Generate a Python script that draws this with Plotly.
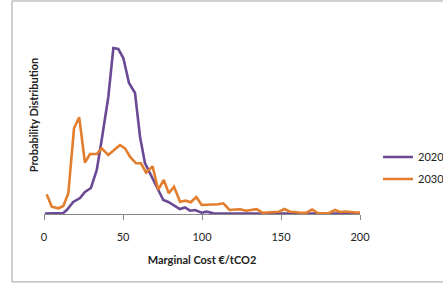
import plotly.graph_objects as go

# Marginal cost (€/tCO2) and probability distribution (arbitrary units)
cost_2020 = [0.6, 4, 8, 12.2, 14.4, 18.5, 22.8, 25.9, 29.7, 33.4, 36.5, 40.7, 43.9, 47, 50.2,
             53.8, 57.6, 60.8, 63.9, 68.2, 72.3, 75.5, 78.7, 81.8, 86, 89.2, 92.4, 95.6,
             99.8, 103, 107.2, 112, 120, 130, 140, 150, 160, 170, 180, 190, 200]
prob_2020 = [0.5, 0.5, 0.5, 1, 4, 12, 16, 22, 26, 44, 74, 117, 166, 165, 156,
             131, 121, 77, 51, 37, 24, 14, 12, 9, 5, 6.5, 3.3, 4,
             1.3, 2.3, 0.7, 0.5, 0.5, 0.5, 0.5, 0.5, 0.5, 0.5, 0.5, 0.5, 0.5]

cost_2030 = [1.7, 4.9, 9.1, 12.2, 15.4, 19.0, 22.3, 25.9, 29.1, 33.4, 36.5, 40.7, 44.9, 48.1,
             51.3, 54.4, 58.2, 61.4, 64.6, 68.7, 72.3, 75.8, 79.0, 82.3, 86.1, 89.6, 92.9,
             96.4, 99.8, 103.2, 107.2, 110.1, 113.5, 117.4, 120.9, 124.1, 127.8, 131.0,
             134.6, 138.5, 142.0, 145.6, 148.7, 152.2, 155.7, 158.9, 162.0, 166.1, 169.7,
             173.6, 176.6, 179.9, 184.2, 187.3, 190.8, 194.7, 197.5, 200]
prob_2030 = [19.7, 7.3, 5.7, 8, 20.7, 85.7, 96.7, 51.3, 60, 60, 65.7, 59, 64.7, 69,
             65.7, 57.3, 50.7, 50.7, 41.3, 47.7, 24.3, 34, 20.7, 27.3, 12.3, 13.3, 11.7,
             17, 9, 9, 9, 9.7, 10.7, 4, 4.5, 4.7, 3.2, 4,
             4.8, 1.2, 1.7, 2.5, 2.3, 5, 2.3, 2, 1.3, 1.3, 4.5,
             0.7, 0.7, 0.7, 4, 2, 2.5, 1.5, 1.5, 1.5]

x_ticks = [0, 50, 100, 150, 200]

FONT = "Lato, 'Liberation Sans', Arial, sans-serif"

fig = go.Figure()
fig.add_trace(go.Scatter(x=cost_2020, y=prob_2020, mode="lines", name="2020",
                         line=dict(color="#6a4a94", width=2.6), cliponaxis=False,
                         legendgroup="a"))
fig.add_trace(go.Scatter(x=cost_2030, y=prob_2030, mode="lines", name="2030",
                         line=dict(color="#e27e2d", width=2.6), cliponaxis=False,
                         legendgroup="b"))

fig.update_layout(
    width=443, height=285,
    margin=dict(l=44, r=83, t=16, b=71, autoexpand=False),
    paper_bgcolor="white", plot_bgcolor="white",
    font=dict(family=FONT, size=11, color="#222"),
    xaxis=dict(range=[0, 200], tickvals=x_ticks, ticks="outside", ticklen=5,
               tickcolor="#888", showline=True, linecolor="#888", linewidth=1,
               showgrid=False, zeroline=False, automargin=False,
               ticklabelstandoff=8,
               tickfont=dict(size=11, color="#222"),
               title=dict(text="<b>Marginal Cost €/tCO2</b>", font=dict(size=11), standoff=14)),
    yaxis=dict(range=[0, 198], showticklabels=False, showgrid=False, zeroline=False,
               showline=False, ticks="", automargin=False,
               title=dict(text="<b>Probability Distribution</b>", font=dict(size=11), standoff=2)),
    legend=dict(x=1.057, y=0.232, xanchor="left", yanchor="middle",
                font=dict(size=11, color="#222"), tracegroupgap=3,
                bgcolor="rgba(0,0,0,0)"),
    showlegend=True,
)

fig.add_shape(type="rect", xref="paper", yref="paper",
              x0=-0.1013, x1=1.3, y0=-0.343, y1=1.0758,
              line=dict(color="#a0a0a0", width=1), fillcolor="rgba(0,0,0,0)", layer="below")

fig.write_html("out.html", config={"displayModeBar": False},
               post_script="document.body.style.margin='0';document.body.style.overflow='hidden';")
